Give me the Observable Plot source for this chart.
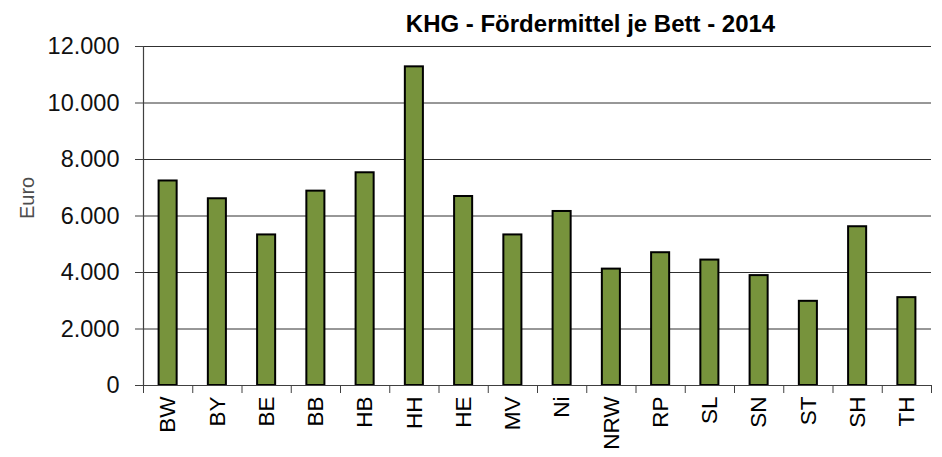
<!DOCTYPE html>
<html>
<head>
<meta charset="utf-8">
<script src="https://cdn.jsdelivr.net/npm/d3@7"></script>
<script src="https://cdn.jsdelivr.net/npm/@observablehq/plot@0.6"></script>
<style>
  html, body { margin: 0; padding: 0; background: #fff; }
  #chart { width: 942px; height: 457px; }
</style>
</head>
<body>
<div id="chart"></div>
<script>
const title = "KHG - Fördermittel je Bett - 2014";
const yLabel = "Euro";
const states = ["BW", "BY", "BE", "BB", "HB", "HH", "HE", "MV", "Ni", "NRW", "RP", "SL", "SN", "ST", "SH", "TH"];
const values = [7240, 6610, 5330, 6880, 7530, 11280, 6690, 5330, 6160, 4120, 4700, 4440, 3890, 2980, 5620, 3110];
const yTicks = [0, 2000, 4000, 6000, 8000, 10000, 12000];

const data = states.map((s, i) => ({state: s, index: i, value: values[i]}));
const fmt = d3.formatLocale({decimal: ",", thousands: ".", grouping: [3], currency: ["", " €"]}).format(",");
const boundaries = d3.range(states.length + 1);
const centers = states.map((s, i) => i + 0.5);
const font = "'Liberation Sans', Arial, sans-serif";

const chart = Plot.plot({
  width: 942,
  height: 457,
  marginLeft: 143,
  marginRight: 11,
  marginTop: 46,
  marginBottom: 72,
  style: {fontFamily: font, fontSize: "22px", color: "#000", background: "#fff"},
  x: {type: "linear", domain: [0, states.length]},
  y: {domain: [0, 12000]},
  marks: [
    Plot.gridY(yTicks, {stroke: "#303030", strokeOpacity: 1, strokeWidth: 1}),
    Plot.rectY(data, {
      x1: "index",
      x2: d => d.index + 1,
      y: "value",
      insetLeft: 15.6,
      insetRight: 15.6,
      fill: "#77933C",
      stroke: "#000",
      strokeWidth: 2
    }),
    Plot.ruleX([0], {stroke: "#404040", strokeWidth: 1.2}),
    Plot.ruleY([0], {stroke: "#404040", strokeWidth: 1.2}),
    Plot.axisY(yTicks, {
      tickSize: 8,
      tickPadding: 16,
      tickFormat: fmt,
      stroke: "#404040",
      fill: "#111",
      fontSize: 23.5,
      label: null
    }),
    Plot.axisX(boundaries, {
      tickSize: 8,
      tickFormat: () => "",
      stroke: "#404040",
      label: null
    }),
    Plot.axisX(centers, {
      tickSize: 0,
      tickPadding: 11,
      tickRotate: -90,
      tickFormat: d => states[Math.floor(d)],
      fill: "#000",
      fontSize: 22.5,
      label: null
    }),
    Plot.text([yLabel], {
      frameAnchor: "left",
      dx: -116,
      dy: 3,
      rotate: -90,
      fontSize: 20,
      fill: "#4d4d4d",
      text: d => d
    }),
    Plot.text([title], {
      frameAnchor: "top",
      dx: 53,
      dy: -22,
      lineAnchor: "middle",
      fontSize: 24,
      fontWeight: "bold",
      fill: "#000",
      text: d => d
    })
  ]
});
document.getElementById("chart").appendChild(chart);
</script>
</body>
</html>
